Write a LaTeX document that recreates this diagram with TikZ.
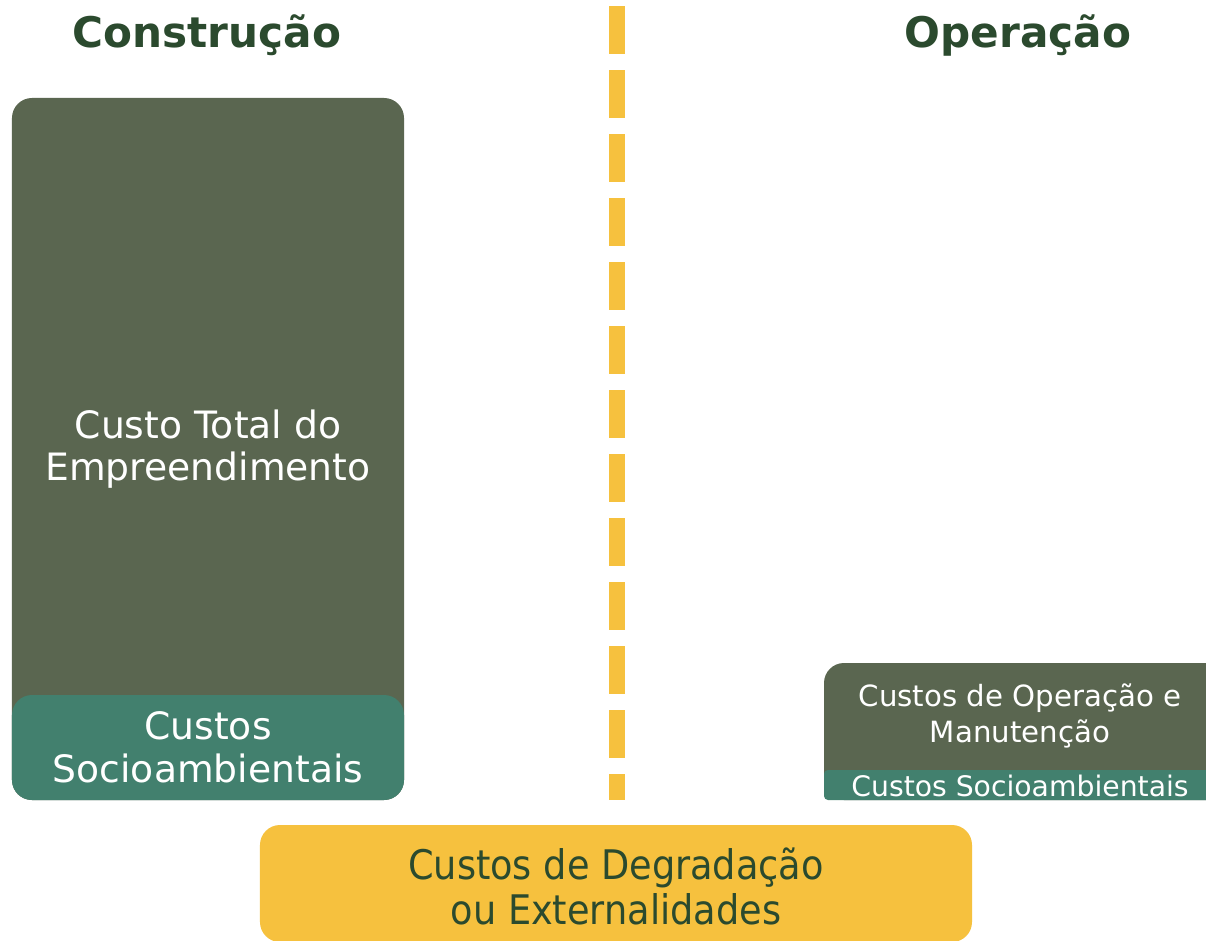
\documentclass[tikz,border=0pt]{standalone}
\usepackage{fontspec}
\setmainfont{DejaVu Sans}
\newfontfamily\narrowfont[FakeStretch=0.9]{DejaVu Sans}
\usetikzlibrary{positioning}

\definecolor{boxolive}{HTML}{5A6650}
\definecolor{boxteal}{HTML}{42806E}
\definecolor{lineyellow}{HTML}{F6C13E}
\definecolor{titlegreen}{HTML}{2B4A2E}

\begin{document}
\begin{tikzpicture}[x=0.25mm, y=-0.25mm,
    title/.style = {font=\bfseries\fontsize{30}{34}\selectfont, text=titlegreen},
    olivebox/.style = {fill=boxolive, rounded corners=5mm, inner sep=0pt},
    tealbox/.style = {fill=boxteal, rounded corners=5mm, inner sep=0pt},
    bigtext/.style = {text=white, align=center, font=\fontsize{26.8}{30.3}\selectfont},
    smalltext/.style = {text=white, align=center, font=\fontsize{20.8}{25}\selectfont},
    dashline/.style = {draw=lineyellow, line width=4mm, dash pattern=on 12mm off 4mm}]
    \useasboundingbox (0,0) rectangle (1206,940);
    \fill[white] (0,0) rectangle (1206,940);
    \clip (0,0) rectangle (1206,940);

    % titles
    \node[title] (constr) at (207,35) {Construção};
    \node[title] (oper) at (1018,35) {Operação};

    % construction column
    \node[olivebox, minimum width=98mm, minimum height=175.5mm, bigtext] (total) at (208,449)
        {Custo Total do\\Empreendimento};
    \node[tealbox, minimum width=98mm, minimum height=26.25mm, bigtext] (socio1) at (208,747.5)
        {Custos\\Socioambientais};

    % dividing line
    \coordinate (top) at (617,6);
    \coordinate (bottom) at (617,800);
    \draw[dashline] (top) -- (bottom);

    % operation column
    \node[olivebox, minimum width=101.5mm, minimum height=34.25mm] (oem) at (1027,731.5) {};
    \node[tealbox, rounded corners=1mm, minimum width=101.5mm, minimum height=7.5mm] (socio2) at (1027,785) {};
    \node[smalltext] (oemtext) at (1020,716) {Custos de Operação e\\Manutenção};
    \node[smalltext, font=\fontsize{20.1}{24}\selectfont] (socio2text) at (1020,786) {Custos Socioambientais};

    % externalities
    \node[fill=lineyellow, rounded corners=5mm, minimum width=178mm, minimum height=29.25mm] (degr) at (616,883.5) {};
    \node[text=titlegreen, align=center, font=\narrowfont\fontsize{29}{32}\selectfont] (degrtext) at (616,886)
        {Custos de Degradação\\ou Externalidades};
\end{tikzpicture}
\end{document}
